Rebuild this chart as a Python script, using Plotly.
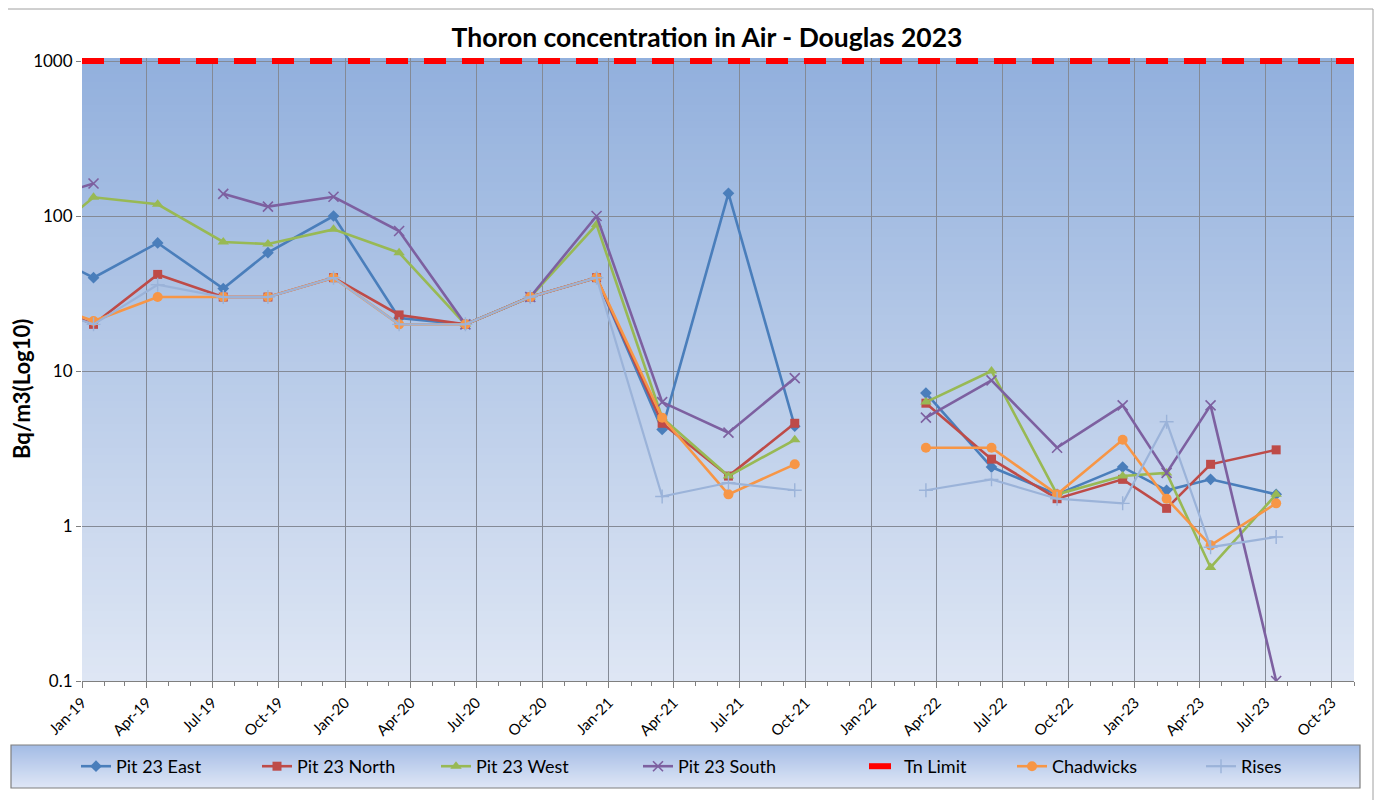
import plotly.graph_objects as go

# sampling dates (one blank row in Dec-21 breaks the lines)
DATES = [
    "2018-10-16", "2019-01-17", "2019-04-16", "2019-07-16", "2019-09-16",
    "2019-12-16", "2020-03-16", "2020-06-16", "2020-09-14", "2020-12-15",
    "2021-03-16", "2021-06-16", "2021-09-16", "2021-12-16", "2022-03-17",
    "2022-06-16", "2022-09-15", "2022-12-15", "2023-02-14", "2023-04-16",
    "2023-07-16",
]
PIT_EAST = [66, 40, 67, 34, 58, 100, 22, 20, 30, 40, 4.2, 140, 4.4, None, 7.2, 2.4, 1.6, 2.4, 1.7, 2.0, 1.6]
PIT_NORTH = [30, 20, 42, 30, 30, 40, 23, 20, 30, 40, 4.6, 2.1, 4.6, None, 6.2, 2.7, 1.5, 2.0, 1.3, 2.5, 3.1]
PIT_WEST = [58, 132, 119, 68, 66, 82, 58, 20, 30, 88, 5.0, 2.1, 3.6, None, 6.3, 10, 1.6, 2.1, 2.2, 0.54, 1.6]
PIT_SOUTH = [120, 162, None, 139, 115, 133, 80, 20, 30, 100, 6.3, 4.0, 9.0, None, 5.0, 8.7, 3.2, 6.0, 2.2, 6.0, 0.1]
CHADWICKS = [30, 21, 30, 30, 30, 40, 20, 20, 30, 40, 5.0, 1.6, 2.5, None, 3.2, 3.2, 1.6, 3.6, 1.5, 0.75, 1.4]
RISES = [28, 20, 36, 30, 30, 40, 20, 20, 30, 40, 1.55, 1.9, 1.7, None, 1.7, 2.0, 1.5, 1.4, 4.7, 0.73, 0.85]

LIMIT_DATES = ["2019-01-01", "2023-11-01"]
TN_LIMIT = [1000, 1000]

X_RANGE = ["2019-01-01", "2023-11-01"]
Y_TICKS = [0.1, 1, 10, 100, 1000]
Y_TICK_TEXT = ["0.1", "1", "10", "100", "1000"]

FONT = "Lato, 'Open Sans', sans-serif"

# the page puts the figure 8px in from the corner, so the figure is drawn 8px smaller
W, H = 1374, 792
PLOT_W, PLOT_H = 1272, 623


def lerp_color(c0, c1, t):
    return "rgb(%d,%d,%d)" % tuple(round(a + (b - a) * t) for a, b in zip(c0, c1))


def gradient_shapes(x0, x1, y0, y1, top, bottom, xref, yref, steps=80):
    shapes = []
    step = (y1 - y0) / steps
    for i in range(steps):
        ya = y1 - step * i
        yb = max(y0, ya - step * 1.6)  # overlap bands so no seams show
        shapes.append(dict(
            type="rect", xref=xref, yref=yref, x0=x0, x1=x1, y0=yb, y1=ya,
            fillcolor=lerp_color(top, bottom, i / (steps - 1)),
            line=dict(width=0), layer="below",
        ))
    return shapes


fig = go.Figure()
legend_no = [0]


def next_legend():
    legend_no[0] += 1
    return "legend" if legend_no[0] == 1 else "legend%d" % legend_no[0]


def add_series(name, values, color, symbol, size, width=2.6, marker_line=None):
    fig.add_trace(go.Scatter(
        x=DATES, y=values, name=name, mode="lines+markers",
        line=dict(color=color, width=width),
        marker=dict(symbol=symbol, size=size, color=color,
                    line=marker_line or dict(width=0, color=color)),
        legend=next_legend(),
    ))


add_series("Pit 23 East", PIT_EAST, "#4a7ebb", "diamond", 9)
add_series("Pit 23 North", PIT_NORTH, "#be4b48", "square", 9)
add_series("Pit 23 West", PIT_WEST, "#98b954", "triangle-up", 10)
add_series("Pit 23 South", PIT_SOUTH, "#7d60a0", "x-thin", 10, marker_line=dict(width=1.6, color="#7d60a0"))
fig.add_trace(go.Scatter(
    x=LIMIT_DATES, y=TN_LIMIT, name="Tn Limit", mode="lines",
    line=dict(color="#ff0000", width=6, dash="22px,16px"),
    legend=next_legend(),
))
add_series("Chadwicks", CHADWICKS, "#f79646", "circle", 10)
add_series("Rises", RISES, "#9bb3d9", "cross-thin", 10, width=2.2,
           marker_line=dict(width=1.4, color="#9bb3d9"))

shapes = []
# plot area gradient
shapes += gradient_shapes(0, 1, 0, 1, (146, 176, 221), (222, 230, 244), "x domain", "y domain")
# legend box gradient + border
lx0, lx1, ly0, ly1 = -71 / PLOT_W, 1278 / PLOT_W, -107 / PLOT_H, -64 / PLOT_H
shapes += gradient_shapes(lx0, lx1, ly0, ly1, (164, 188, 229), (222, 230, 246), "paper", "paper", steps=30)
shapes.append(dict(type="rect", xref="paper", yref="paper", x0=lx0, x1=lx1, y0=ly0, y1=ly1,
                   line=dict(color="#7f7f7f", width=1.2), layer="above"))
# chart outer border
shapes.append(dict(type="rect", xref="paper", yref="paper", x0=-80 / PLOT_W, x1=1291 / PLOT_W,
                   y0=-0.3, y1=672 / PLOT_H, line=dict(color="#a0a0a0", width=1), layer="below"))

legend_style = dict(orientation="h", y=-85.5 / PLOT_H, xanchor="left", yanchor="middle",
                    bgcolor="rgba(0,0,0,0)", borderwidth=0,
                    font=dict(family=FONT, size=18, color="black"))
legend_x = [-6, 175, 354, 556, 782, 930, 1119]
legends = {}
for i, lx in enumerate(legend_x):
    key = "legend" if i == 0 else "legend%d" % (i + 1)
    legends[key] = dict(legend_style, x=lx / PLOT_W)

fig.update_layout(
    width=W,
    height=H,
    margin=dict(l=74, r=W - 74 - PLOT_W, t=50, b=H - 50 - PLOT_H, autoexpand=False),
    paper_bgcolor="white",
    plot_bgcolor="rgba(0,0,0,0)",
    font=dict(family=FONT, size=16, color="black"),
    title=dict(text="<b>Thoron concentration in Air - Douglas 2023</b>",
               x=699 / W, xanchor="center", y=1 - 30 / H, yanchor="middle",
               font=dict(family=FONT, size=26.5, color="black")),
    annotations=[dict(
        text="<b>Bq/m3(Log10)</b>", textangle=-90, showarrow=False,
        xref="paper", yref="paper", x=-60 / PLOT_W, y=292 / PLOT_H,
        xanchor="center", yanchor="middle", font=dict(family=FONT, size=22, color="black"),
    )],
    shapes=shapes,
    showlegend=True,
    **legends,
)

fig.update_xaxes(
    type="date", range=X_RANGE, tick0="2019-01-01", dtick="M3", tickformat="%b-%y",
    tickangle=-45, ticks="outside", ticklen=6, tickcolor="#7f7f7f",
    showgrid=True, gridcolor="#848a96", gridwidth=1,
    showline=True, linecolor="#7f7f7f", linewidth=1,
    minor=dict(dtick="M1", ticks="outside", ticklen=4, tickcolor="#7f7f7f", showgrid=False),
    tickfont=dict(size=15), zeroline=False, automargin=False,
)
fig.update_yaxes(
    type="log", range=[-1, 3 + 3 / 155], tickvals=Y_TICKS, ticktext=Y_TICK_TEXT,
    ticks="outside", ticklen=5, tickcolor="#7f7f7f",
    showgrid=True, gridcolor="#848a96", gridwidth=1, showline=False,
    tickfont=dict(size=17), zeroline=False, automargin=False,
)

fig.write_html("out.html")
